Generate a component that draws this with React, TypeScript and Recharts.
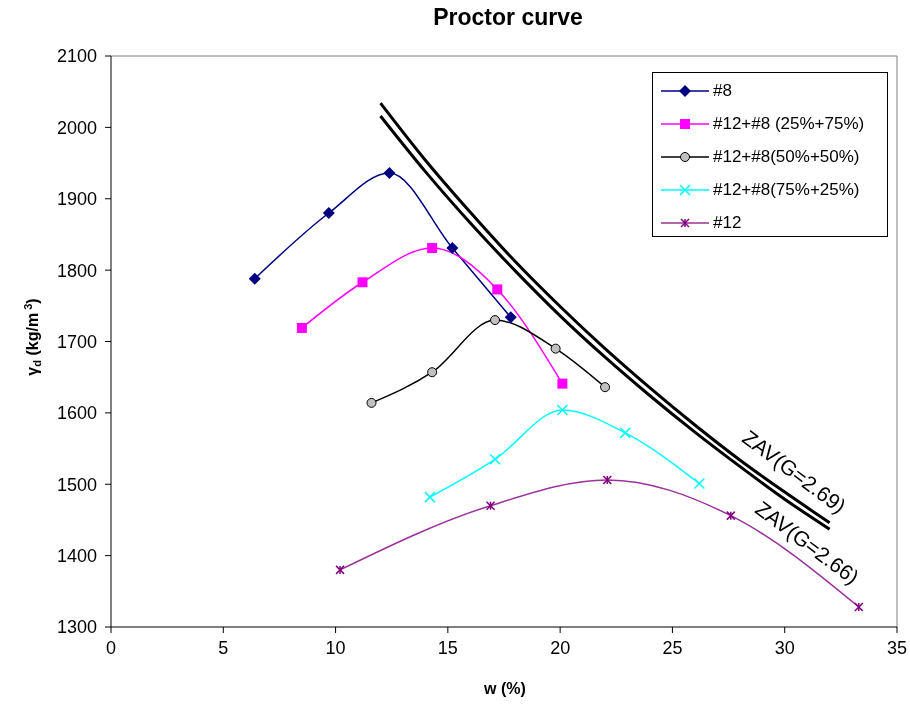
import React from "react";
import {
  LineChart,
  Line,
  XAxis,
  YAxis,
  ReferenceLine,
} from "recharts";

// water content w (%) and dry unit weight (kg/m3)
const w8 = [6.4, 9.7, 12.4, 15.2, 17.8];
const gd8 = [1788, 1880, 1936, 1831, 1734];

const w25 = [8.5, 11.2, 14.3, 17.2, 20.1];
const gd25 = [1719, 1783, 1831, 1773, 1641];

const w50 = [11.6, 14.3, 17.1, 19.8, 22.0];
const gd50 = [1614, 1657, 1730, 1690, 1636];

const w75 = [14.2, 17.1, 20.1, 22.9, 26.2];
const gd75 = [1482, 1535, 1604, 1572, 1501];

const w12 = [10.2, 16.9, 22.1, 27.6, 33.3];
const gd12 = [1380, 1470, 1506, 1456, 1328];

// zero air voids lines
const wZav = [12, 14, 16, 18, 20, 22, 24, 26, 28, 30, 32];
const zav269 = [2034, 1954, 1881, 1812, 1749, 1690, 1635, 1583, 1534, 1489, 1446];
const zav266 = [2016, 1938, 1866, 1799, 1736, 1678, 1624, 1573, 1525, 1479, 1437];

const xTicks = [0, 5, 10, 15, 20, 25, 30, 35];
const yTicks = [1300, 1400, 1500, 1600, 1700, 1800, 1900, 2000, 2100];

const toRows = (ws: number[], ys: number[]) => ws.map((w, i) => ({ w, y: ys[i] }));

const FONT = "'Liberation Sans', Arial, sans-serif";

const Diamond = ({ cx, cy }: any) => (
  <polygon
    points={`${cx},${cy - 6} ${cx + 6},${cy} ${cx},${cy + 6} ${cx - 6},${cy}`}
    fill="#000080"
  />
);
const Square = ({ cx, cy }: any) => (
  <rect x={cx - 5} y={cy - 5} width={10} height={10} fill="#FF00FF" />
);
const Circle = ({ cx, cy }: any) => (
  <circle cx={cx} cy={cy} r={4.5} fill="#C0C0C0" stroke="#000" strokeWidth={1} />
);
const Cross = ({ cx, cy }: any) => (
  <g stroke="#00FFFF" strokeWidth={1.5}>
    <line x1={cx - 5} y1={cy - 5} x2={cx + 5} y2={cy + 5} />
    <line x1={cx - 5} y1={cy + 5} x2={cx + 5} y2={cy - 5} />
  </g>
);
const Star = ({ cx, cy }: any) => (
  <g stroke="#800080" strokeWidth={1.5}>
    <line x1={cx - 4} y1={cy - 4} x2={cx + 4} y2={cy + 4} />
    <line x1={cx - 4} y1={cy + 4} x2={cx + 4} y2={cy - 4} />
    <line x1={cx} y1={cy - 4} x2={cx} y2={cy + 4} />
  </g>
);

const series = [
  { name: "#8", rows: toRows(w8, gd8), color: "#000080", Mark: Diamond },
  { name: "#12+#8 (25%+75%)", rows: toRows(w25, gd25), color: "#FF00FF", Mark: Square },
  { name: "#12+#8(50%+50%)", rows: toRows(w50, gd50), color: "#000000", Mark: Circle },
  { name: "#12+#8(75%+25%)", rows: toRows(w75, gd75), color: "#00FFFF", Mark: Cross },
  { name: "#12", rows: toRows(w12, gd12), color: "#993399", Mark: Star },
];

const LegendBox = () => (
  <div
    style={{
      position: "absolute",
      left: 652,
      top: 72,
      width: 236,
      height: 165,
      border: "1px solid #000",
      background: "#fff",
      boxSizing: "border-box",
      paddingTop: 1,
    }}
  >
    {series.map((s) => (
      <div key={s.name} style={{ display: "flex", alignItems: "center", height: 33 }}>
        <svg width={60} height={20}>
          <line x1={8} y1={10} x2={56} y2={10} stroke={s.color} strokeWidth={1.5} />
          <s.Mark cx={32} cy={10} />
        </svg>
        <span style={{ fontFamily: FONT, fontSize: 17, color: "#000" }}>{s.name}</span>
      </div>
    ))}
  </div>
);

const YLabel = () => (
  <text
    transform="translate(38, 337) rotate(-90)"
    textAnchor="middle"
    fontFamily={FONT}
    fontSize={16}
    fontWeight="bold"
    fill="#000"
  >
    γ<tspan fontSize={11} dy={3}>d</tspan>
    <tspan dy={-3}> (kg/m</tspan>
    <tspan fontSize={11} dy={-6}> 3</tspan>
    <tspan dy={6}>)</tspan>
  </text>
);

export default function App() {
  const tick = { fontFamily: FONT, fontSize: 18, fill: "#000" };
  return (
    <div style={{ position: "fixed", left: 0, top: 0, width: 910, height: 706, background: "#fff" }}>
      <div
        style={{
          position: "absolute",
          top: 4,
          width: 1016,
          textAlign: "center",
          fontFamily: FONT,
          fontWeight: "bold",
          fontSize: 23,
        }}
      >
        Proctor curve
      </div>
      <LineChart
        width={910}
        height={706}
        margin={{ top: 56, right: 13, bottom: 49, left: 0 }}
      >
        <XAxis
          type="number"
          dataKey="w"
          domain={[0, 35]}
          ticks={xTicks}
          allowDataOverflow
          height={30}
          tick={tick}
          tickSize={6}
          tickMargin={8}
          axisLine={{ stroke: "#000" }}
          tickLine={{ stroke: "#000" }}
        />
        <YAxis
          type="number"
          dataKey="y"
          domain={[1300, 2100]}
          ticks={yTicks}
          allowDataOverflow
          width={111}
          tick={tick}
          tickSize={6}
          tickMargin={8}
          axisLine={{ stroke: "#000" }}
          tickLine={{ stroke: "#000" }}
          label={{ content: () => <YLabel /> }}
        />
        <ReferenceLine y={2100} stroke="#808080" />
        <ReferenceLine x={35} stroke="#808080" />
        <Line
          data={toRows(wZav, zav269)}
          dataKey="y"
          type="monotone"
          stroke="#000"
          strokeWidth={3}
          dot={false}
          activeDot={false}
          isAnimationActive={false}
        />
        <Line
          data={toRows(wZav, zav266)}
          dataKey="y"
          type="monotone"
          stroke="#000"
          strokeWidth={3}
          dot={false}
          activeDot={false}
          isAnimationActive={false}
        />
        {series.map((s) => (
          <Line
            key={s.name}
            name={s.name}
            data={s.rows}
            dataKey="y"
            type="monotone"
            stroke={s.color}
            strokeWidth={1.5}
            isAnimationActive={false}
            activeDot={false}
            dot={(p: any) => <s.Mark key={`${s.name}-${p.index}`} cx={p.cx} cy={p.cy} />}
          />
        ))}
      </LineChart>
      <LegendBox />
      <div
        style={{
          position: "absolute",
          left: 505,
          top: 680,
          transform: "translateX(-50%)",
          fontFamily: FONT,
          fontWeight: "bold",
          fontSize: 16,
          whiteSpace: "nowrap",
        }}
      >
        w (%)
      </div>
      <div
        style={{
          position: "absolute",
          left: 794,
          top: 472,
          transform: "translate(-50%, -50%) rotate(37deg)",
          fontFamily: FONT,
          fontSize: 21,
          whiteSpace: "nowrap",
        }}
      >
        ZAV(G=2.69)
      </div>
      <div
        style={{
          position: "absolute",
          left: 807,
          top: 543,
          transform: "translate(-50%, -50%) rotate(37deg)",
          fontFamily: FONT,
          fontSize: 21,
          whiteSpace: "nowrap",
        }}
      >
        ZAV(G=2.66)
      </div>
    </div>
  );
}
